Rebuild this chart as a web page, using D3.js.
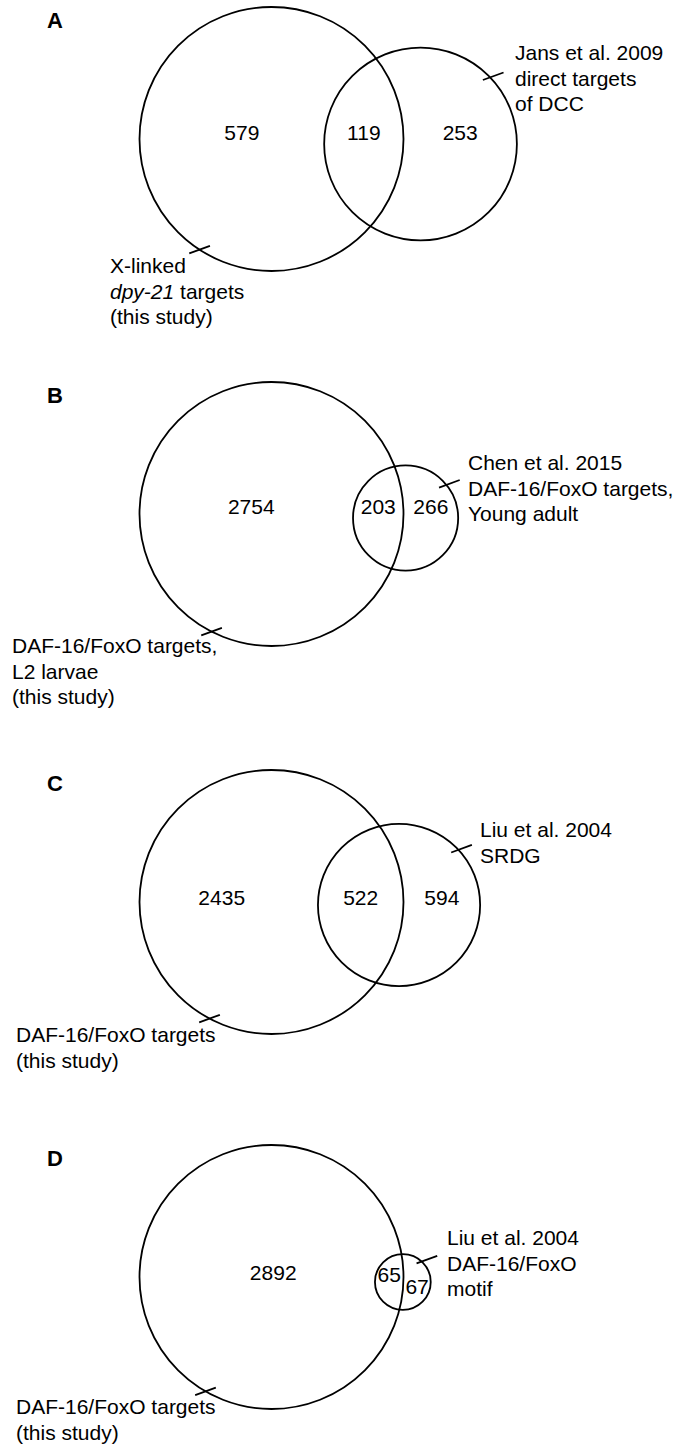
<!DOCTYPE html>
<html>
<head>
<meta charset="utf-8">
<script src="https://cdnjs.cloudflare.com/ajax/libs/d3/7.8.5/d3.min.js"></script>
<style>
  body { margin: 0; background: #fff; }
  text { font-family: "Liberation Sans", Arial, sans-serif; fill: #000; }
</style>
</head>
<body>
<div id="chart"></div>
<script>
// DATA
var panels = ["A", "B", "C", "D"];
// gene counts: only in this study / shared / only in the published list
var onlyStudy = [579, 2754, 2435, 2892];
var shared = [119, 203, 522, 65];
var onlyOther = [253, 266, 594, 67];
// set labels, one entry per line, _..._ marks italics
var studyLabels = [
  ["X-linked", "_dpy-21_ targets", "(this study)"],
  ["DAF-16/FoxO targets,", "L2 larvae", "(this study)"],
  ["DAF-16/FoxO targets", "(this study)"],
  ["DAF-16/FoxO targets", "(this study)"]
];
var otherLabels = [
  ["Jans et al. 2009", "direct targets", "of DCC"],
  ["Chen et al. 2015", "DAF-16/FoxO targets,", "Young adult"],
  ["Liu et al. 2004", "SRDG"],
  ["Liu et al. 2004", "DAF-16/FoxO", "motif"]
];

// LAYOUT (positions only)
var width = 674, height = 1444;
var cx = 271.5, bigR = 132;
var panelY = [139, 514, 902, 1277];      // centre of the big circle
var smallDy = [5, 4, 3, 5];              // small circle sits a little lower
var leftNudge = [10, 5, -7, 16];
var numDy = [[-6, -6, -6], [-7, -7, -7], [-4, -4, -4], [-4, -2, 10]];
var rightLabel = [{x: 515, y: -86}, {x: 468, y: -51}, {x: 480, y: -72}, {x: 447, y: -39}];
var leftLabel = [{x: 110, y: 127}, {x: 12, y: 132}, {x: 16, y: 133}, {x: 16, y: 130}];
var tickAngleRight = [-43, -38, -42, -43];
var tickAngleLeft = [123, 117, 118, 120];
var lineGap = 25.5;
var fontSize = 21;

var svg = d3.select("#chart").append("svg")
  .attr("width", width)
  .attr("height", height);

// area of the lens formed by two circles at distance d
function lens(r1, r2, d) {
  if (d >= r1 + r2) return 0;
  if (d <= Math.abs(r1 - r2)) return Math.PI * Math.min(r1, r2) * Math.min(r1, r2);
  var a = r1 * r1 * Math.acos((d * d + r1 * r1 - r2 * r2) / (2 * d * r1));
  var b = r2 * r2 * Math.acos((d * d + r2 * r2 - r1 * r1) / (2 * d * r2));
  var c = 0.5 * Math.sqrt((-d + r1 + r2) * (d + r1 - r2) * (d - r1 + r2) * (d + r1 + r2));
  return a + b - c;
}

function addLines(g, lines, x, y) {
  lines.forEach(function(line, j) {
    var t = g.append("text")
      .attr("x", x)
      .attr("y", y + j * lineGap)
      .attr("dy", "0.35em")
      .style("font-size", fontSize + "px");
    line.split("_").forEach(function(part, k) {
      if (part === "") return;
      t.append("tspan")
        .style("font-style", k % 2 ? "italic" : "normal")
        .text(part);
    });
  });
}

function tick(g, c0x, c0y, r, angleDeg, out) {
  var a = angleDeg * Math.PI / 180;
  var px = c0x + (r + out) * Math.cos(a);
  var py = c0y + (r + out) * Math.sin(a);
  var t = -20 * Math.PI / 180, len = 11;
  g.append("line")
    .attr("x1", px - len * Math.cos(t)).attr("y1", py - len * Math.sin(t))
    .attr("x2", px + len * Math.cos(t)).attr("y2", py + len * Math.sin(t))
    .attr("stroke", "#000")
    .attr("stroke-width", 1.8);
}

panels.forEach(function(p, i) {
  var bigTotal = onlyStudy[i] + shared[i];
  var smallTotal = onlyOther[i] + shared[i];

  // circle areas proportional to the counts
  var r = d3.scaleSqrt().domain([0, bigTotal]).range([0, bigR]);
  var r1 = r(bigTotal), r2 = r(smallTotal);
  var target = Math.PI * r(shared[i]) * r(shared[i]);

  // find the centre distance that gives the shared area
  var lo = Math.abs(r1 - r2), hi = r1 + r2;
  for (var k = 0; k < 60; k++) {
    var mid = (lo + hi) / 2;
    if (lens(r1, r2, mid) > target) lo = mid; else hi = mid;
  }
  var dist = (lo + hi) / 2;

  var cy = panelY[i];
  var c2x = cx + dist, c2y = cy + smallDy[i];
  var g = svg.append("g");

  g.append("text")
    .attr("x", 47)
    .attr("y", cy - 119)
    .attr("dy", "0.35em")
    .style("font-size", "22px")
    .style("font-weight", "bold")
    .text(p);

  g.append("circle")
    .attr("cx", cx).attr("cy", cy).attr("r", r1)
    .attr("fill", "none").attr("stroke", "#000").attr("stroke-width", 1.8);
  g.append("circle")
    .attr("cx", c2x).attr("cy", c2y).attr("r", r2)
    .attr("fill", "none").attr("stroke", "#000").attr("stroke-width", 1.8);

  // region counts
  var bigLeft = cx - r1, bigRight = cx + r1;
  var smallLeft = c2x - r2, smallRight = c2x + r2;
  var xs = [(bigLeft + smallLeft) / 2 + leftNudge[i], (smallLeft + bigRight) / 2, (bigRight + smallRight) / 2];
  [onlyStudy[i], shared[i], onlyOther[i]].forEach(function(v, j) {
    g.append("text")
      .attr("x", xs[j])
      .attr("y", cy + numDy[i][j])
      .attr("dy", "0.35em")
      .attr("text-anchor", "middle")
      .style("font-size", fontSize + "px")
      .text(v);
  });

  // set labels with their pointer ticks
  tick(g, c2x, c2y, r2, tickAngleRight[i], i === 3 ? 5 : 3);
  tick(g, cx, cy, r1, tickAngleLeft[i], 0);
  addLines(g, otherLabels[i], rightLabel[i].x, cy + rightLabel[i].y);
  addLines(g, studyLabels[i], leftLabel[i].x, cy + leftLabel[i].y);
});
</script>
</body>
</html>
